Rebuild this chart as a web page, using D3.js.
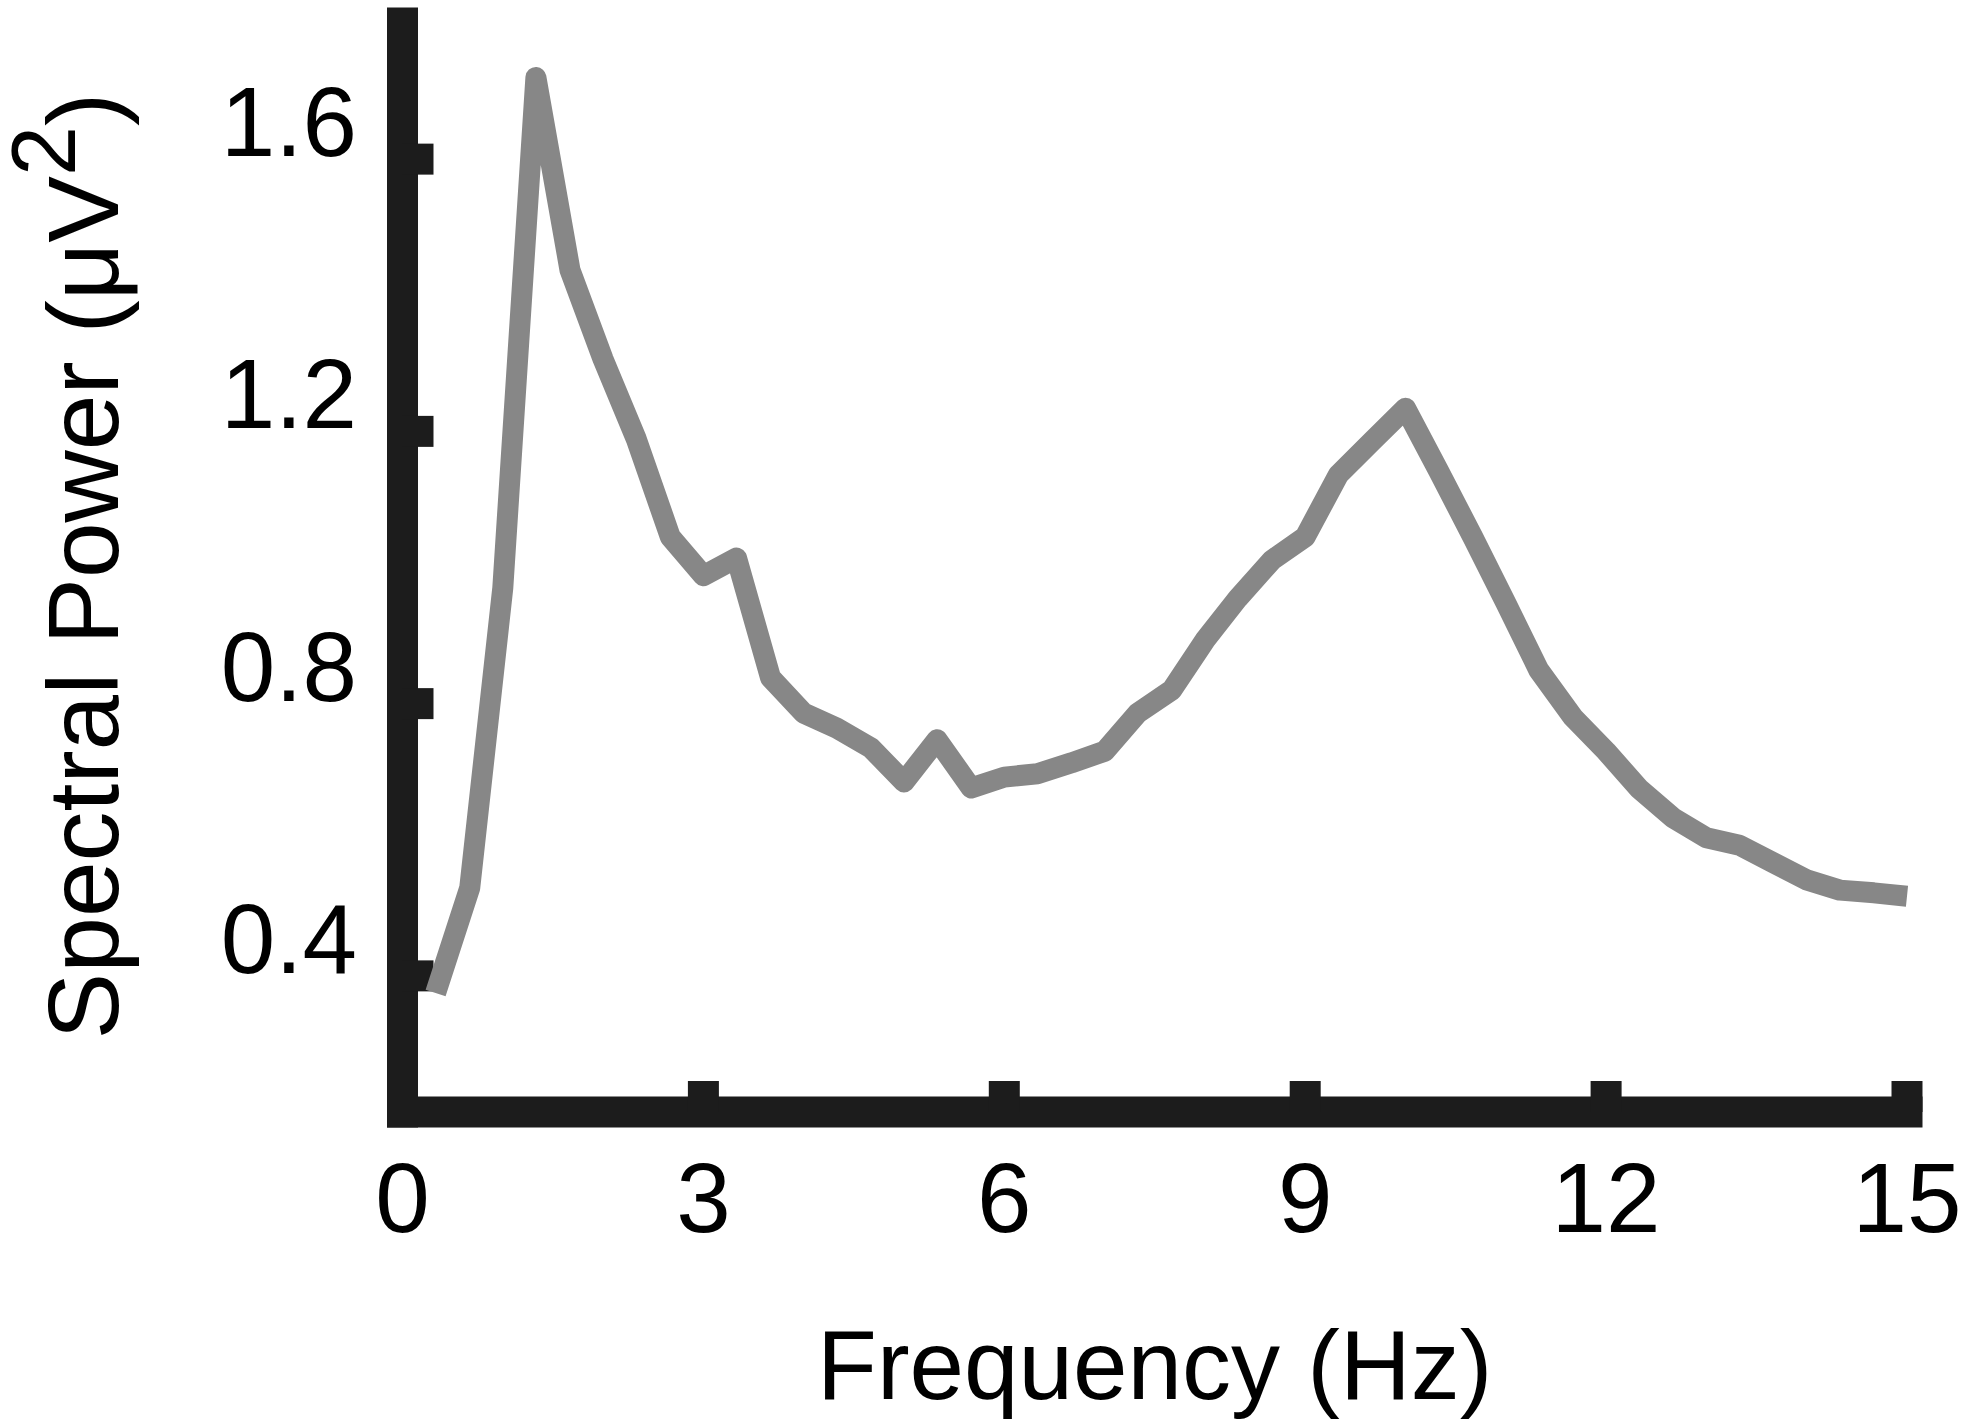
<!DOCTYPE html>
<html lang="en">
<head>
    <meta charset="UTF-8">
    <meta name="viewport" content="width=device-width, initial-scale=1.0">
    <script src="https://d3js.org/d3.v7.min.js" charset="utf-8"></script>
    <title>Spectral Power</title>
    <style>
        body {
            margin: 0;
            background: white;
        }

        .chart text {
            font-family: "Liberation Sans", Arial, Helvetica, sans-serif;
            fill: black;
        }
    </style>
</head>
<body>
<div class="chart"></div>

<script>
    const width = 1961;
    const height = 1426;

    // Frequency bins (Hz) and spectral power (uV^2)
    const frequency = [0.33, 0.67, 1.0, 1.33, 1.67, 2.0, 2.33, 2.67, 3.0, 3.33,
        3.67, 4.0, 4.33, 4.67, 5.0, 5.33, 5.67, 6.0, 6.33, 6.67,
        7.0, 7.33, 7.67, 8.0, 8.33, 8.67, 9.0, 9.33, 9.67, 10.0,
        10.33, 10.67, 11.0, 11.33, 11.67, 12.0, 12.33, 12.67, 13.0, 13.33,
        13.67, 14.0, 14.33, 14.67, 15.0];
    const power = [0.375, 0.529, 0.970, 1.720, 1.437, 1.306, 1.189, 1.045, 0.988, 1.014,
        0.838, 0.786, 0.764, 0.735, 0.685, 0.747, 0.676, 0.692, 0.697, 0.713,
        0.730, 0.786, 0.820, 0.893, 0.955, 1.011, 1.045, 1.136, 1.186, 1.234,
        1.142, 1.045, 0.948, 0.849, 0.780, 0.730, 0.675, 0.632, 0.603, 0.592,
        0.566, 0.541, 0.526, 0.522, 0.517];

    // Axis ticks
    const xTicks = [0, 3, 6, 9, 12, 15];
    const yTicks = [0.4, 0.8, 1.2, 1.6];

    const axisColor = "#1c1c1c";
    const lineColor = "#878787";
    const axisWidth = 31;
    const fontSize = 98;

    const svg = d3.select(".chart").append("svg")
        .attr("width", width)
        .attr("height", height);

    // Scales
    const x = d3.scaleLinear().domain([0, 15]).range([402.5, 1907]);
    const y = d3.scaleLinear().domain([0.2, 1.8]).range([1112, 23]);

    // Axis lines (thick, square ends like the MATLAB export)
    svg.append("line")
        .attr("x1", x(0)).attr("x2", x(0))
        .attr("y1", y(0.2)).attr("y2", y(1.8))
        .attr("stroke", axisColor)
        .attr("stroke-width", axisWidth)
        .attr("stroke-linecap", "square");

    svg.append("line")
        .attr("x1", x(0)).attr("x2", x(15))
        .attr("y1", y(0.2)).attr("y2", y(0.2))
        .attr("stroke", axisColor)
        .attr("stroke-width", axisWidth)
        .attr("stroke-linecap", "square");

    // Inward ticks
    svg.selectAll(".ytick")
        .data(yTicks)
        .enter()
        .append("line")
        .attr("class", "ytick")
        .attr("x1", x(0)).attr("x2", x(0) + axisWidth)
        .attr("y1", d => y(d)).attr("y2", d => y(d))
        .attr("stroke", axisColor)
        .attr("stroke-width", axisWidth);

    svg.selectAll(".xtick")
        .data(xTicks.filter(d => d > 0))
        .enter()
        .append("line")
        .attr("class", "xtick")
        .attr("x1", d => x(d)).attr("x2", d => x(d))
        .attr("y1", y(0.2)).attr("y2", y(0.2) - axisWidth)
        .attr("stroke", axisColor)
        .attr("stroke-width", axisWidth);

    // Tick labels
    svg.selectAll(".ylabel")
        .data(yTicks)
        .enter()
        .append("text")
        .attr("class", "ylabel")
        .attr("x", 357)
        .attr("y", d => y(d) - 3)
        .attr("text-anchor", "end")
        .style("font-size", fontSize + "px")
        .text(d => d.toFixed(1));

    svg.selectAll(".xlabel")
        .data(xTicks)
        .enter()
        .append("text")
        .attr("class", "xlabel")
        .attr("x", d => x(d))
        .attr("y", 1232)
        .attr("text-anchor", "middle")
        .style("font-size", fontSize + "px")
        .text(d => d);

    // Axis titles
    svg.append("text")
        .attr("x", (x(0) + x(15)) / 2)
        .attr("y", 1399)
        .attr("text-anchor", "middle")
        .style("font-size", fontSize + "px")
        .text("Frequency (Hz)");

    const yTitle = svg.append("text")
        .attr("transform", "translate(118,566) rotate(-90)")
        .attr("text-anchor", "middle")
        .style("font-size", "100px");
    yTitle.append("tspan").text("Spectral Power (\u03bcV");
    yTitle.append("tspan").attr("dy", -43).style("font-size", "90px").text("2");
    yTitle.append("tspan").attr("dy", 43).text(")");

    // Spectrum line
    const points = frequency.map((f, i) => [f, power[i]]);
    const lineGen = d3.line()
        .x(d => x(d[0]))
        .y(d => y(d[1]));

    svg.append("path")
        .datum(points)
        .attr("d", lineGen)
        .attr("fill", "none")
        .attr("stroke", lineColor)
        .attr("stroke-width", 21)
        .attr("stroke-linejoin", "round")
        .attr("stroke-linecap", "butt");
</script>
</body>
</html>
